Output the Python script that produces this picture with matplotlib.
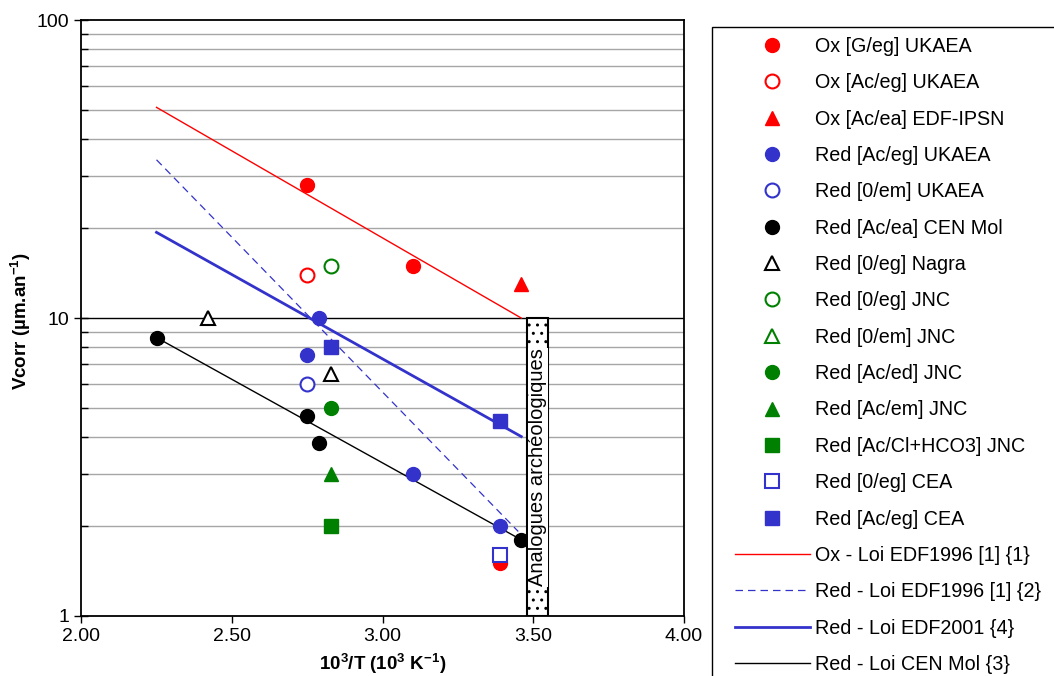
# Vcorr vs 1000/T, oxidising and reducing conditions, with the fitted laws
import numpy as np
import matplotlib.pyplot as plt
from matplotlib.lines import Line2D
from matplotlib.patches import Rectangle
from matplotlib.ticker import FixedLocator, NullFormatter, FormatStrFormatter

plt.rcParams['font.family'] = ['Liberation Sans', 'DejaVu Sans']
plt.rcParams['mathtext.default'] = 'regular'

RED = '#FF0000'
BLUE = '#3333CC'
GREEN = '#008000'
BLACK = '#000000'

#### DATA (x = 10^3/T, y = Vcorr in um/an)
ox_g_eg_ukaea_x = [2.75, 3.10, 3.39]
ox_g_eg_ukaea_y = [28, 15, 1.5]
ox_ac_eg_ukaea_x = [2.75]
ox_ac_eg_ukaea_y = [14]
ox_ac_ea_edf_x = [3.46]
ox_ac_ea_edf_y = [13]
red_ac_eg_ukaea_x = [2.79, 2.75, 3.10, 3.39]
red_ac_eg_ukaea_y = [10, 7.5, 3.0, 2.0]
red_0_em_ukaea_x = [2.75]
red_0_em_ukaea_y = [6.0]
red_ac_ea_cen_x = [2.25, 2.75, 2.79, 3.46]
red_ac_ea_cen_y = [8.6, 4.7, 3.8, 1.8]
red_0_eg_nagra_x = [2.42, 2.83]
red_0_eg_nagra_y = [10, 6.5]
red_0_eg_jnc_x = [2.83]
red_0_eg_jnc_y = [15]
red_0_em_jnc_x = []
red_0_em_jnc_y = []
red_ac_ed_jnc_x = [2.83]
red_ac_ed_jnc_y = [5.0]
red_ac_em_jnc_x = [2.83]
red_ac_em_jnc_y = [3.0]
red_ac_cl_jnc_x = [2.83]
red_ac_cl_jnc_y = [2.0]
red_0_eg_cea_x = [3.39]
red_0_eg_cea_y = [1.6]
red_ac_eg_cea_x = [2.83, 3.39]
red_ac_eg_cea_y = [8.0, 4.5]

# laws, drawn between two end points
law_ox_1996_x = [2.25, 3.46]
law_ox_1996_y = [51, 10]
law_red_1996_x = [2.25, 3.45]
law_red_1996_y = [34, 1.92]
law_red_2001_x = [2.25, 3.46]
law_red_2001_y = [19.4, 4.0]
law_cen_x = [2.25, 3.46]
law_cen_y = [8.6, 1.8]

x_ticks = [2.00, 2.50, 3.00, 3.50, 4.00]
y_major = [1, 10, 100]
y_minor = [2, 3, 4, 5, 6, 7, 8, 9, 20, 30, 40, 50, 60, 70, 80, 90]

# label, x, y, marker, colour, filled
series = [
    ('Ox [G/eg] UKAEA', ox_g_eg_ukaea_x, ox_g_eg_ukaea_y, 'o', RED, True),
    ('Ox [Ac/eg] UKAEA', ox_ac_eg_ukaea_x, ox_ac_eg_ukaea_y, 'o', RED, False),
    ('Ox [Ac/ea] EDF-IPSN', ox_ac_ea_edf_x, ox_ac_ea_edf_y, '^', RED, True),
    ('Red [Ac/eg] UKAEA', red_ac_eg_ukaea_x, red_ac_eg_ukaea_y, 'o', BLUE, True),
    ('Red [0/em] UKAEA', red_0_em_ukaea_x, red_0_em_ukaea_y, 'o', BLUE, False),
    ('Red [Ac/ea] CEN Mol', red_ac_ea_cen_x, red_ac_ea_cen_y, 'o', BLACK, True),
    ('Red [0/eg] Nagra', red_0_eg_nagra_x, red_0_eg_nagra_y, '^', BLACK, False),
    ('Red [0/eg] JNC', red_0_eg_jnc_x, red_0_eg_jnc_y, 'o', GREEN, False),
    ('Red [0/em] JNC', red_0_em_jnc_x, red_0_em_jnc_y, '^', GREEN, False),
    ('Red [Ac/ed] JNC', red_ac_ed_jnc_x, red_ac_ed_jnc_y, 'o', GREEN, True),
    ('Red [Ac/em] JNC', red_ac_em_jnc_x, red_ac_em_jnc_y, '^', GREEN, True),
    ('Red [Ac/Cl+HCO3] JNC', red_ac_cl_jnc_x, red_ac_cl_jnc_y, 's', GREEN, True),
    ('Red [0/eg] CEA', red_0_eg_cea_x, red_0_eg_cea_y, 's', BLUE, False),
    ('Red [Ac/eg] CEA', red_ac_eg_cea_x, red_ac_eg_cea_y, 's', BLUE, True),
]

# label, x, y, colour, width, style
laws = [
    ('Ox - Loi EDF1996 [1] {1}', law_ox_1996_x, law_ox_1996_y, RED, 1.0, '-'),
    ('Red - Loi EDF1996 [1] {2}', law_red_1996_x, law_red_1996_y, BLUE, 0.9, (0, (6, 4))),
    ('Red - Loi EDF2001 {4}', law_red_2001_x, law_red_2001_y, BLUE, 2.0, '-'),
    ('Red - Loi CEN Mol {3}', law_cen_x, law_cen_y, BLACK, 1.0, '-'),
]

fig = plt.figure(figsize=(10.54, 6.76), dpi=100)
ax = fig.add_axes([0.077, 0.089, 0.572, 0.881])
ax.set_yscale('log')
ax.set_xlim(2.0, 4.0)
ax.set_ylim(1, 100)

# excel style grid
for v in y_minor:
    ax.axhline(v, color='#A6A6A6', lw=1.0, zorder=0)
ax.axhline(10, color='black', lw=1.0, zorder=0)

handles = []
for label, lx, ly, c, w, ls in laws:
    ax.plot(lx, ly, color=c, lw=w, linestyle=ls, zorder=2)

for label, sx, sy, m, c, filled in series:
    ms = 10 if m != 's' else 9.5
    face = c if filled else 'white'
    h, = ax.plot(sx, sy, linestyle='none', marker=m, markersize=ms,
                 markerfacecolor=face, markeredgecolor=c,
                 markeredgewidth=1.0 if filled else 1.5, zorder=3, label=label)
    handles.append(h)

for label, lx, ly, c, w, ls in laws:
    handles.append(Line2D([], [], color=c, lw=w, linestyle=ls, label=label))

# archaeological analogues zone
box = Rectangle((3.48, 1.0), 0.07, 9.0, facecolor='white', edgecolor='black',
                lw=1.5, hatch='..', zorder=4)
ax.add_patch(box)
ax.text(3.515, 3.15, 'Analogues archéologiques', rotation=90, ha='center',
        va='center', fontsize=14.5, zorder=5,
        bbox=dict(facecolor='white', edgecolor='none', pad=0.3))

# ticks
ax.yaxis.set_major_locator(FixedLocator(y_major))
ax.yaxis.set_minor_locator(FixedLocator(y_minor))
ax.yaxis.set_minor_formatter(NullFormatter())
ax.set_yticklabels([str(v) for v in y_major])
ax.set_xticks(x_ticks)
ax.xaxis.set_major_formatter(FormatStrFormatter('%.2f'))
ax.tick_params(axis='y', which='major', direction='inout', length=10, width=1, labelsize=14)
ax.tick_params(axis='y', which='minor', direction='in', length=5, width=1)
ax.tick_params(axis='x', direction='out', length=5, width=1, labelsize=14)
for s in ax.spines.values():
    s.set_linewidth(1.3)

ax.set_ylabel('Vcorr (µm.an$^{-1}$)', fontsize=13.5, fontweight='bold')
ax.yaxis.set_label_coords(-0.08, 0.495)
ax.set_xlabel('10$^{3}$/T (10$^{3}$ K$^{-1}$)', fontsize=13.5, fontweight='bold', labelpad=5)

# legend frame runs off the figure on the right and at the bottom
frame = Rectangle((0.6755, -0.2), 0.5, 1.16, transform=fig.transFigure,
                  facecolor='white', edgecolor='black', lw=1.0)
fig.patches.append(frame)
leg = fig.legend(handles=handles, loc='upper left', bbox_to_anchor=(0.688, 0.96),
                 frameon=False, fontsize=14.2, handlelength=3.8,
                 handletextpad=0.25, labelspacing=0.88,
                 borderpad=0.5, borderaxespad=0)

fig.savefig('out.png', dpi=100)
